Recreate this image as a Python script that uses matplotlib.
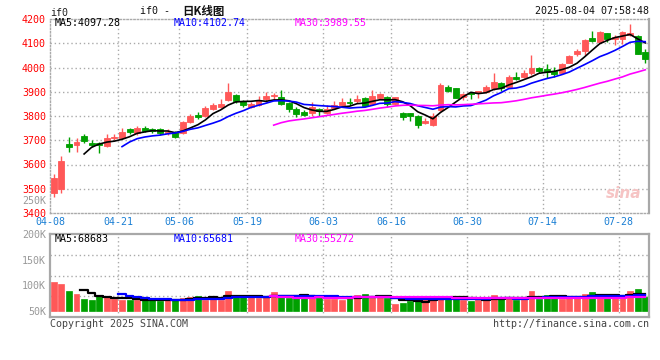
import numpy as np
import pandas as pd
import matplotlib
matplotlib.use("Agg")
import matplotlib.pyplot as plt

# ---------------- data ----------------
opens = [3481, 3498, 3683, 3680, 3717, 3690, 3687, 3678, 3708, 3708,
         3745, 3728, 3750, 3745, 3745, 3728, 3735, 3730, 3775, 3805,
         3800, 3830, 3838, 3865, 3885, 3860, 3838, 3845, 3869, 3883,
         3880, 3852, 3829, 3818, 3814, 3830, 3814, 3832, 3847, 3856,
         3862, 3874, 3848, 3873, 3880, 3849, 3811, 3811, 3800, 3770,
         3763, 3825, 3921, 3914, 3877, 3896, 3894, 3900, 3914, 3937,
         3921, 3962, 3960, 3976, 3997, 3994, 3986, 3979, 4020, 4056,
         4069, 4123, 4104, 4141, 4118, 4118, 4134, 4130, 4065]
closes = [3543, 3614, 3671, 3692, 3697, 3682, 3680, 3711, 3712, 3735,
          3735, 3750, 3740, 3738, 3728, 3735, 3715, 3775, 3800, 3795,
          3835, 3845, 3850, 3900, 3860, 3845, 3848, 3866, 3884, 3887,
          3848, 3828, 3807, 3804, 3838, 3819, 3828, 3847, 3856, 3852,
          3871, 3841, 3882, 3889, 3849, 3877, 3797, 3801, 3763, 3781,
          3800, 3928, 3903, 3875, 3891, 3891, 3902, 3921, 3941, 3914,
          3962, 3954, 3979, 3999, 3987, 3983, 3973, 4014, 4049, 4069,
          4113, 4111, 4148, 4118, 4127, 4145, 4144, 4057, 4034]
highs = [3561, 3635, 3715, 3708, 3725, 3701, 3694, 3726, 3726, 3750,
         3752, 3760, 3757, 3752, 3750, 3745, 3740, 3780, 3808, 3815,
         3840, 3852, 3870, 3935, 3890, 3866, 3859, 3882, 3900, 3896,
         3907, 3859, 3838, 3825, 3859, 3834, 3845, 3862, 3873, 3873,
         3887, 3880, 3907, 3894, 3884, 3880, 3816, 3814, 3804, 3790,
         3811, 3936, 3928, 3917, 3894, 3900, 3904, 3928, 3979, 3941,
         3969, 3983, 3990, 4052, 4003, 4014, 4001, 4017, 4053, 4075,
         4116, 4152, 4152, 4144, 4134, 4150, 4179, 4134, 4075]
lows = [3467, 3484, 3653, 3650, 3690, 3671, 3649, 3673, 3701, 3705,
        3725, 3722, 3732, 3730, 3722, 3720, 3710, 3725, 3770, 3788,
        3795, 3825, 3832, 3860, 3855, 3838, 3834, 3841, 3859, 3866,
        3845, 3818, 3797, 3800, 3800, 3800, 3808, 3828, 3842, 3845,
        3855, 3836, 3845, 3869, 3838, 3845, 3783, 3781, 3752, 3766,
        3759, 3820, 3900, 3873, 3866, 3869, 3873, 3894, 3907, 3904,
        3914, 3948, 3955, 3969, 3979, 3955, 3962, 3976, 4017, 4047,
        4052, 4106, 4102, 4106, 4093, 4097, 4130, 4054, 4020]
volumes = [107100, 102600, 89600, 83100, 74000, 71400, 79900, 77900, 73400, 71400,
           71400, 71400, 71400, 73400, 69500, 70800, 70800, 74700, 77900, 79900,
           71400, 79900, 71400, 89600, 79900, 76600, 76600, 76000, 77300, 87600,
           81200, 74700, 74700, 83100, 81200, 76000, 73400, 73400, 71400, 77900,
           81200, 83100, 74700, 79200, 76000, 63600, 66200, 69500, 69500, 73400,
           77900, 79900, 76000, 77300, 71400, 69500, 71400, 71400, 81200, 73400,
           74700, 71400, 76000, 88900, 73400, 81200, 74700, 73400, 79200, 74700,
           83100, 87600, 81200, 79200, 77900, 74700, 88900, 92800, 77900]

date_labels = ["04-08", "04-21", "05-06", "05-19", "06-03", "06-16", "06-30", "07-14", "07-28"]
date_label_idx = [0, 9, 17, 26, 36, 45, 55, 65, 75]
vol_grid_idx = [9, 26, 36, 45, 55, 75]
price_ticks = [3400, 3500, 3600, 3700, 3800, 3900, 4000, 4100, 4200]
vol_ticks = [50000, 100000, 150000, 200000]
vol_tick_labels = ["50K", "100K", "150K", "200K"]

price_ma_text = ["MA5:4097.28", "MA10:4102.74", "MA30:3989.55"]
vol_ma_text = ["MA5:68683", "MA10:65681", "MA30:55272"]

# ---------------- style ----------------
RED = "#ff5858"
GREEN = "#00a000"
GRID = "#aaaaaa"
BORDER = "#a8a8a8"
DATEC = "#1a7fd4"
MONO = ["DejaVu Sans Mono", "Noto Sans CJK SC"]
FS = 7.2

W, H = 660, 360
fig = plt.figure(figsize=(W / 100, H / 100), dpi=100)
fig.patch.set_facecolor("white")


def fx(px):
    return px / W


def fy(py):
    return 1 - py / H


L, R = 50, 649
ax = fig.add_axes([fx(L), fy(213), fx(R) - fx(L), fy(19) - fy(213)])
axv = fig.add_axes([fx(L), fy(317), fx(R) - fx(L), fy(234) - fy(317)])

n = len(closes)
x = np.arange(n) + 0.5
o = np.array(opens, float)
c = np.array(closes, float)
hi = np.array(highs, float)
lo = np.array(lows, float)
v = np.array(volumes, float)
up = c >= o
cols = np.where(up, RED, GREEN)

# ---------------- price panel ----------------
ax.set_xlim(0, n)
ax.set_ylim(3400, 4200)
for yv in price_ticks[1:-1]:
    ax.axhline(yv, color=GRID, lw=1, ls=(0, (1, 2)), zorder=0)
for xi in date_label_idx[1:]:
    ax.axvline(xi, color=GRID, lw=1, ls=(0, (1, 2)), zorder=0)

ax.vlines(x, lo, hi, colors=cols, lw=1, zorder=2)
ax.bar(x, np.abs(c - o), bottom=np.minimum(o, c), width=0.78,
       color=cols, edgecolor=cols, linewidth=0.6, zorder=3)

cs = pd.Series(c)
ax.plot(x, cs.rolling(5).mean(), color="black", lw=1.2, zorder=4)
ax.plot(x, cs.rolling(10).mean(), color="#0000ff", lw=1.2, zorder=4)
ax.plot(x, cs.rolling(30).mean(), color="#ff00ff", lw=1.2, zorder=4)

ax.set_yticks(price_ticks)
ax.set_yticklabels([str(t) for t in price_ticks], family=MONO, fontsize=FS, color="#ff0000")
ax.set_xticks(date_label_idx)
ax.set_xticklabels(date_labels, family=MONO, fontsize=FS, color=DATEC)
ax.tick_params(axis="both", length=0, pad=3)
ax.tick_params(axis="x", pad=3)
for s in ["left", "top", "bottom"]:
    ax.spines[s].set_color(GRID)
    ax.spines[s].set_linestyle((0, (1, 1.5)))
    ax.spines[s].set_linewidth(1)
ax.spines["right"].set_color(BORDER)
ax.spines["right"].set_linewidth(1.6)

# ---------------- volume panel ----------------
vbase = 50000
vtop = 200000
px_per_unit = (311 - 234) / (vtop - vbase)
vbottom = vbase - (317 - 311) / px_per_unit
axv.set_xlim(0, n)
axv.set_ylim(vbottom, vtop)
for frac in (0.25, 0.5, 0.75):
    axv.axhline(vbottom + frac * (vtop - vbottom), color=GRID, lw=1, ls=(0, (1, 2)), zorder=0)
for xi in vol_grid_idx:
    axv.axvline(xi, color=GRID, lw=1, ls=(0, (1, 2)), zorder=0)
axv.bar(x, v - vbase, bottom=vbase, width=0.78, color=cols, edgecolor=cols, linewidth=0.5, zorder=2)
vs = pd.Series(v)
axv.plot(x, vs.rolling(5).mean(), color="black", lw=1.6, drawstyle="steps-mid", zorder=4)
axv.plot(x, vs.rolling(10).mean(), color="#0000ff", lw=1.6, drawstyle="steps-mid", zorder=4)
axv.plot(x, vs.rolling(30).mean(), color="#ff00ff", lw=1.6, drawstyle="steps-mid", zorder=4)
axv.set_yticks(vol_ticks)
axv.set_yticklabels(vol_tick_labels, family=MONO, fontsize=FS, color="#999999")
axv.set_xticks([])
axv.tick_params(axis="both", length=0, pad=3)
for s in axv.spines.values():
    s.set_color(BORDER)
    s.set_linewidth(1.6)

# stray volume label that sina draws inside the price area
fig.text(fx(46.5), fy(201), "250K", family=MONO, fontsize=FS, color="#999999",
         ha="right", va="center")

# ---------------- texts ----------------
fig.text(fx(50), fy(12.5), "if0", family=MONO, fontsize=FS, color="#222222", va="center", ha="left")
fig.text(fx(140), fy(11), "if0 -", family=MONO, fontsize=FS, color="#111111",
         va="center", ha="left")
fig.text(fx(182), fy(11), "日K线图", family=["Noto Sans CJK SC", "DejaVu Sans"], fontsize=8.3,
         color="#111111", va="center", ha="left", weight="bold")
fig.text(fx(649), fy(11.5), "2025-08-04 07:58:48", family=MONO, fontsize=FS, color="#111111",
         va="center", ha="right")
fig.text(fx(55), fy(23.5), price_ma_text[0], family=MONO, fontsize=FS, color="black", va="center")
fig.text(fx(174), fy(23.5), price_ma_text[1], family=MONO, fontsize=FS, color="#0000ff", va="center")
fig.text(fx(295), fy(23.5), price_ma_text[2], family=MONO, fontsize=FS, color="#ff00ff", va="center")
fig.text(fx(55), fy(239), vol_ma_text[0], family=MONO, fontsize=FS, color="black", va="center")
fig.text(fx(174), fy(239), vol_ma_text[1], family=MONO, fontsize=FS, color="#0000ff", va="center")
fig.text(fx(295), fy(239), vol_ma_text[2], family=MONO, fontsize=FS, color="#ff00ff", va="center")
fig.text(fx(50), fy(324), "Copyright 2025 SINA.COM", family=MONO, fontsize=FS, color="#444444", va="center")
fig.text(fx(649), fy(324), "http://finance.sina.com.cn", family=MONO, fontsize=FS, color="#444444",
         va="center", ha="right")
fig.text(fx(624), fy(193), "sina", family="DejaVu Sans", fontsize=11, color="#f6c4c4",
         va="center", ha="center", weight="bold", style="italic")

fig.savefig("out.png", dpi=100, facecolor="white")
